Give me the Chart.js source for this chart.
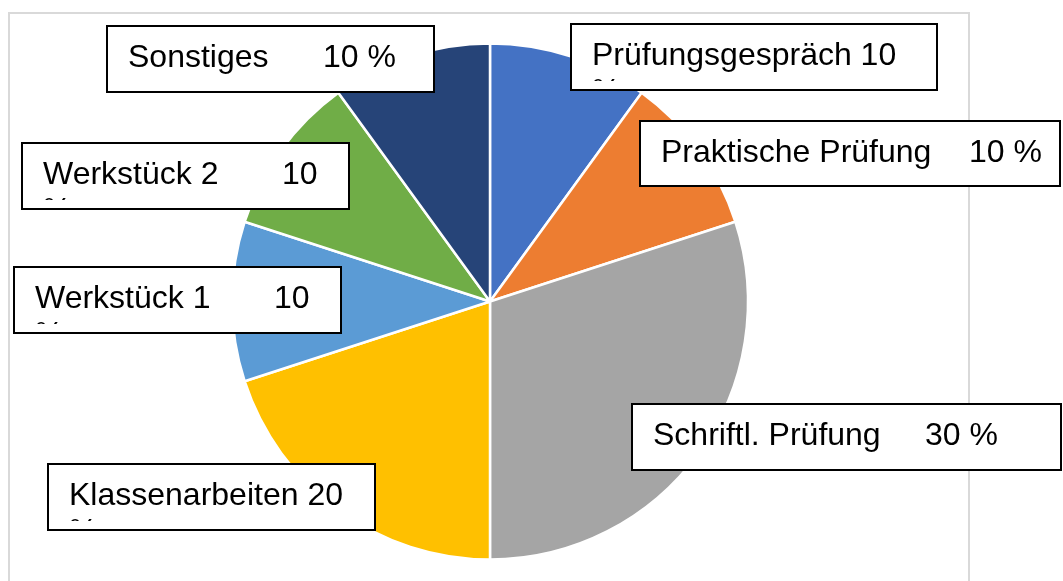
<!DOCTYPE html>
<html>
<head>
<meta charset="utf-8">
<script src="https://cdn.jsdelivr.net/npm/chart.js@4.4.1/dist/chart.umd.min.js"></script>
<style>
    html, body { margin: 0; padding: 0; background: #fff; }
</style>
</head>
<body>
<canvas id="chart" width="1063" height="581"></canvas>
<script>
/* data */
const categories = ["Prüfungsgespräch", "Praktische Prüfung", "Schriftl. Prüfung", "Klassenarbeiten", "Werkstück 1", "Werkstück 2", "Sonstiges"];
const shares = [10, 10, 30, 20, 10, 10, 10];

/* colors */
const colors = ["#4472C4", "#ED7D31", "#A5A5A5", "#FFC000", "#5B9BD5", "#70AD47", "#264478"];

/* label boxes (layout only), same order as categories */
// valueDx: where the number starts (from box left), null = right after the name
// wrap: "%" falls onto a second, clipped line
const labelBoxes = [
    { x: 571, y: 24, w: 366, h: 66, valueDx: null, wrap: true },
    { x: 640, y: 121, w: 420, h: 65, valueDx: 329, wrap: false },
    { x: 632, y: 404, w: 429, h: 66, valueDx: 293, wrap: false },
    { x: 48, y: 464, w: 327, h: 66, valueDx: null, wrap: true },
    { x: 14, y: 267, w: 327, h: 66, valueDx: 260, wrap: true },
    { x: 22, y: 143, w: 327, h: 66, valueDx: 260, wrap: true },
    { x: 107, y: 26, w: 327, h: 66, valueDx: 216, wrap: false },
];

const FONT = '32px "Liberation Sans", Arial, sans-serif';

// light grey frame behind everything
const framePlugin = {
    id: "frame",
    beforeDraw(chart) {
        const c = chart.ctx;
        c.save();
        c.fillStyle = "#fff";
        c.fillRect(0, 0, chart.width, chart.height);
        c.strokeStyle = "#d9d9d9";
        c.lineWidth = 2;
        c.strokeRect(9, 13, 960, 600);
        c.restore();
    },
};

// boxed labels drawn on top of the pie
const boxLabels = {
    id: "boxLabels",
    afterDraw(chart) {
        const c = chart.ctx;
        c.save();
        c.font = FONT;
        c.textBaseline = "alphabetic";
        categories.forEach((name, i) => {
            const b = labelBoxes[i];
            c.fillStyle = "#fff";
            c.fillRect(b.x, b.y, b.w, b.h);
            c.strokeStyle = "#000";
            c.lineWidth = 2;
            c.strokeRect(b.x, b.y, b.w, b.h);

            c.save();
            c.beginPath();
            c.rect(b.x + 1, b.y + 1, b.w - 2, b.h - 10);
            c.clip();
            c.fillStyle = "#000";
            const tx = b.x + 21;
            const base = b.y + 40.5;
            c.fillText(name, tx, base);
            const num = String(shares[i]);
            const vx = b.valueDx === null ? tx + c.measureText(name + " ").width : b.x + b.valueDx;
            if (b.wrap) {
                c.fillText(num, vx, base);
                c.fillText("%", tx, base + 36);
            } else {
                c.fillText(num + " %", vx, base);
            }
            c.restore();
        });
        c.restore();
    },
};

const ctx = document.getElementById("chart");

new Chart(ctx, {
    type: "pie",
    data: {
        labels: categories,
        datasets: [
            {
                data: shares,
                backgroundColor: colors,
                borderColor: "#fff",
                borderWidth: 2.5,
                hoverOffset: 0,
                offset: 0,
                radius: 258,
            },
        ],
    },
    options: {
        responsive: false,
        animation: false,
        events: [],
        layout: { padding: { left: 0, right: 83, top: 22, bottom: 0 } },
        plugins: {
            legend: { display: false },
            tooltip: { enabled: false },
        },
    },
    plugins: [framePlugin, boxLabels],
});
</script>
</body>
</html>
